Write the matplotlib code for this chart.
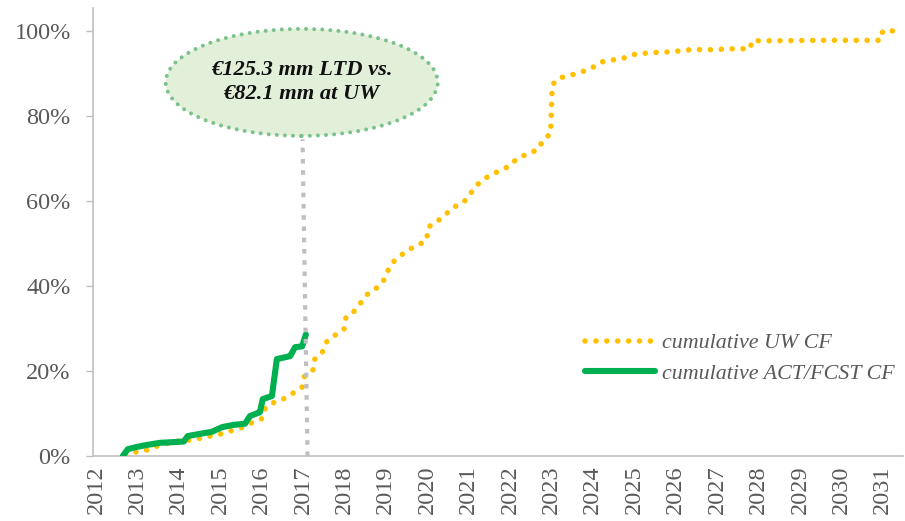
import matplotlib
matplotlib.use("Agg")
import matplotlib.pyplot as plt
from matplotlib.patches import Ellipse

# ---- data ----
uw_years = [2012.72, 2012.94, 2013.23, 2013.47, 2013.74, 2014.03, 2014.37, 2014.63, 2014.92,
            2015.21, 2015.48, 2015.74, 2016.01, 2016.10, 2016.32, 2016.57, 2016.76, 2016.98,
            2017.04, 2017.24, 2017.29, 2017.48, 2017.58, 2017.80, 2017.99, 2018.04, 2018.23,
            2018.40, 2018.55, 2018.74, 2018.93, 2019.03, 2019.15, 2019.34, 2019.54, 2019.78,
            2019.99, 2020.02, 2020.21, 2020.43, 2020.60, 2020.84, 2021.01, 2021.13, 2021.32,
            2021.54, 2021.78, 2022.00, 2022.17, 2022.43, 2022.68, 2022.80, 2022.98, 2023.02,
            2023.18, 2023.47, 2023.74, 2023.98, 2024.20, 2024.49, 2024.78, 2025.04, 2025.33,
            2025.62, 2025.94, 2026.23, 2026.52, 2026.83, 2027.12, 2027.41, 2027.80, 2027.84,
            2028.5, 2029.5, 2030.5, 2030.95, 2031.00, 2031.38]
uw_pct = [0.0, 0.9, 1.4, 2.3, 3.0, 3.6, 3.8, 4.5, 4.9,
          5.8, 6.5, 7.7, 8.8, 11.5, 12.7, 13.6, 14.8, 16.2,
          18.8, 20.2, 23.0, 24.6, 27.0, 28.6, 29.8, 32.7, 34.0,
          36.1, 38.0, 39.2, 40.9, 43.2, 45.4, 47.0, 48.5, 49.6,
          50.8, 53.8, 55.0, 56.6, 58.4, 59.4, 61.0, 63.1, 64.8,
          66.2, 67.2, 68.3, 70.0, 71.1, 72.1, 74.4, 75.8, 87.3,
          88.9, 89.6, 90.4, 91.3, 92.7, 93.2, 93.7, 94.6, 94.8,
          95.0, 95.1, 95.5, 95.6, 95.6, 95.7, 95.8, 95.8, 97.7,
          97.7, 97.8, 97.8, 97.8, 100.0, 100.0]

act_years = [2012.65, 2012.77, 2012.97, 2013.23, 2013.55, 2014.12, 2014.22, 2014.51, 2014.80,
             2015.05, 2015.31, 2015.60, 2015.72, 2015.96, 2016.03, 2016.25, 2016.37, 2016.69,
             2016.81, 2016.98, 2017.07]
act_pct = [0.0, 1.6, 2.1, 2.6, 3.1, 3.4, 4.7, 5.2, 5.7,
           6.8, 7.3, 7.6, 9.4, 10.3, 13.4, 14.1, 22.8, 23.5,
           25.6, 25.8, 28.6]

ltd_top = (2016.99, 74.5)
ltd_bottom = (2017.11, 0.0)

year_ticks = list(range(2012, 2032))
pct_ticks = [0, 20, 40, 60, 80, 100]

callout_text = "€125.3 mm LTD vs.\n€82.1 mm at UW"
label_uw = "cumulative UW CF"
label_act = "cumulative ACT/FCST CF"

# ---- figure ----
W, H = 905, 521
fig = plt.figure(figsize=(W / 100, H / 100), dpi=100)
ax = fig.add_axes([93 / W, (H - 456) / H, 810 / W, 448 / H])

serif = ["Liberation Serif", "DejaVu Serif"]
grey_txt = "#595959"
axis_grey = "#BFBFBF"

ax.plot(uw_years, uw_pct, color="#FFC000", lw=4.0, linestyle=(0, (0.01, 1.95)),
        dash_capstyle="round", label=label_uw, zorder=3)
ax.plot(act_years, act_pct, color="#00B050", lw=4.4, solid_capstyle="round",
        solid_joinstyle="round", label=label_act, zorder=4)

ax.plot([ltd_bottom[0], ltd_top[0]], [ltd_bottom[1], ltd_top[1]], color=axis_grey,
        lw=3.0, linestyle=(0, (1.1, 1.6)), zorder=5, clip_on=False)

# callout ellipse
ell = Ellipse((2016.97, 87.9), width=272 / 41.4, height=107 / 4.25,
              facecolor="#E2F0D9", edgecolor="#7CC28C", lw=2.9,
              linestyle=(0, (0.01, 2.0)), clip_on=False, zorder=6)
ell.set_capstyle("round")
ax.add_patch(ell)
ax.text(2016.97, 88.0, callout_text, ha="center", va="center", fontsize=16.2,
        fontweight="bold", fontstyle="italic", family=serif, color="#111111",
        linespacing=1.3, zorder=7)

ax.set_xlim(2011.93, 2031.49)
ax.set_ylim(0, 105.4)

ax.set_xticks(year_ticks)
ax.set_xticklabels([str(y) for y in year_ticks], rotation=90, family=serif,
                   fontsize=17.5, color=grey_txt)
ax.set_yticks(pct_ticks)
ax.set_yticklabels([f"{p}%" for p in pct_ticks], family=serif, fontsize=17.5,
                   color=grey_txt)
ax.tick_params(axis="x", length=0, pad=7)
ax.tick_params(axis="y", length=5, width=1, color=axis_grey, pad=11)

for s in ["top", "right"]:
    ax.spines[s].set_visible(False)
for s in ["left", "bottom"]:
    ax.spines[s].set_color(axis_grey)
    ax.spines[s].set_linewidth(1.2)

leg = ax.legend(loc="upper left", bbox_to_anchor=((585 - 93) / 810, (456 - 333) / 448),
                frameon=False, borderpad=0, borderaxespad=0, handlelength=3.2,
                handletextpad=0.3, labelspacing=0.45,
                prop={"family": serif, "style": "italic", "size": 15.8})
for t in leg.get_texts():
    t.set_color(grey_txt)

fig.savefig("out.png", dpi=100)
